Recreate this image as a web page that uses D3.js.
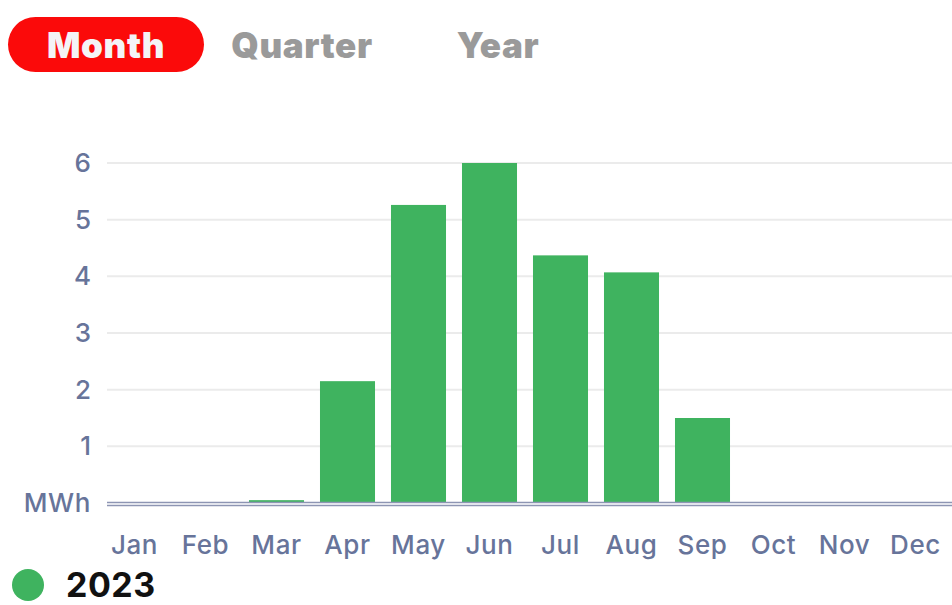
<!DOCTYPE html>
<html>
<head>
<meta charset="utf-8">
<script src="https://cdn.jsdelivr.net/npm/d3@7"></script>
<style>
  html, body { margin: 0; padding: 0; background: #fff; }
  svg { display: block; font-family: Inter, "Open Sans", sans-serif; }
</style>
</head>
<body>
<svg id="chart" width="952" height="605"></svg>
<script>
// chart data
const months = ['Jan', 'Feb', 'Mar', 'Apr', 'May', 'Jun', 'Jul', 'Aug', 'Sep', 'Oct', 'Nov', 'Dec'];
const energy2023 = [0, 0, 0.05, 2.15, 5.26, 6.0, 4.37, 4.07, 1.5, 0, 0, 0];
const yTicks = [1, 2, 3, 4, 5, 6];
const tabs = ['Month', 'Quarter', 'Year'];
const tabCenters = [106, 302, 498];
const seriesName = '2023';

const green = '#3fb35f';
const axisText = '#67749a';

const svg = d3.select('#chart');

// period selector
svg.append('rect')
    .attr('x', 8).attr('y', 17)
    .attr('width', 196).attr('height', 55)
    .attr('rx', 27.5)
    .attr('fill', '#fb0a0a');

svg.append('g')
    .selectAll('text')
    .data(tabs)
    .enter()
    .append('text')
    .attr('x', (d, i) => tabCenters[i])
    .attr('y', 58)
    .attr('text-anchor', 'middle')
    .attr('font-size', 35)
    .attr('font-weight', 900)
    .attr('letter-spacing', 0.6)
    .attr('fill', (d, i) => i === 0 ? '#f4f4f6' : '#9a9a9a')
    .text(d => d);

// scales
const x = d3.scaleBand()
    .domain(months)
    .range([99, 951])
    .paddingInner(0.225)
    .paddingOuter(0.1125);

const y = d3.scaleLinear()
    .domain([0, 6])
    .range([503, 163]);

// gridlines
svg.append('g')
    .selectAll('line')
    .data(yTicks)
    .enter()
    .append('line')
    .attr('x1', 107).attr('x2', 952)
    .attr('y1', d => y(d)).attr('y2', d => y(d))
    .attr('stroke', '#ebebeb')
    .attr('stroke-width', 2);

// bars
svg.append('g')
    .selectAll('rect')
    .data(energy2023)
    .enter()
    .append('rect')
    .attr('x', (d, i) => x(months[i]))
    .attr('width', x.bandwidth())
    .attr('y', d => y(d))
    .attr('height', d => y(0) - y(d))
    .attr('fill', green);

// baseline (double line)
svg.append('line')
    .attr('x1', 107).attr('x2', 952)
    .attr('y1', y(0) - 0.5).attr('y2', y(0) - 0.5)
    .attr('stroke', '#8d95b3').attr('stroke-width', 1.3);
svg.append('line')
    .attr('x1', 107).attr('x2', 952)
    .attr('y1', y(0) + 2.5).attr('y2', y(0) + 2.5)
    .attr('stroke', '#8d95b3').attr('stroke-width', 1.3);

// y axis labels
svg.append('g')
    .selectAll('text')
    .data(yTicks)
    .enter()
    .append('text')
    .attr('x', 91)
    .attr('y', d => y(d) + 9)
    .attr('text-anchor', 'end')
    .attr('font-size', 26)
    .attr('font-weight', 500)
    .attr('fill', axisText)
    .text(d => d);

svg.append('text')
    .attr('x', 91)
    .attr('y', y(0) + 9)
    .attr('text-anchor', 'end')
    .attr('font-size', 26)
    .attr('font-weight', 500)
    .attr('letter-spacing', 0.6)
    .attr('fill', axisText)
    .text('MWh');

// x axis labels
svg.append('g')
    .selectAll('text')
    .data(months)
    .enter()
    .append('text')
    .attr('x', d => x(d) + x.bandwidth() / 2)
    .attr('y', 554)
    .attr('text-anchor', 'middle')
    .attr('font-size', 26)
    .attr('font-weight', 500)
    .attr('letter-spacing', 0.6)
    .attr('fill', axisText)
    .text(d => d);

// legend
svg.append('circle')
    .attr('cx', 28).attr('cy', 585).attr('r', 16)
    .attr('fill', green);
svg.append('text')
    .attr('x', 66).attr('y', 597)
    .attr('font-size', 34)
    .attr('font-weight', 700)
    .attr('letter-spacing', 0.5)
    .attr('fill', '#111')
    .text(seriesName);
</script>
</body>
</html>
